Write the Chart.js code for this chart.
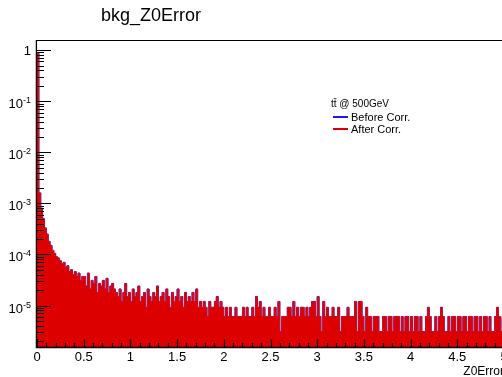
<!DOCTYPE html>
<html>
<head>
<meta charset="utf-8">
<title>bkg_Z0Error</title>
<script src="https://cdn.jsdelivr.net/npm/chart.js@4.4.0/dist/chart.umd.min.js"></script>
<style>
  html, body { margin: 0; padding: 0; background: #fff; overflow: hidden; }
</style>
</head>
<body>
<canvas id="z0Chart" width="512" height="377"></canvas>
<script>
// texts
const histTitle = 'bkg_Z0Error';
const xAxisTitle = 'Z0Error';
const legendHeader = 'tt\u0304 @ 500GeV';
const seriesLabels = ['Before Corr.', 'After Corr.'];

// axes
const xRange = [0, 5];
const binWidth = 0.02;
const xTickValues = [0, 0.5, 1, 1.5, 2, 2.5, 3, 3.5, 4, 4.5, 5];
const yRange = [1.54e-6, 1.58];
const yDecades = [0, -1, -2, -3, -4, -5];

// bin contents (normalized), 0.02 wide bins
const binsHead = [ // 0 - 0.5
  0.87, 1.6e-3, 8.0e-4, 5.0e-4, 3.3e-4, 2.5e-4, 1.8e-4, 1.5e-4, 1.2e-4, 1.05e-4,
  9.0e-5, 8.5e-5, 7.5e-5, 6.5e-5, 7.0e-5, 5.5e-5, 6.0e-5, 4.6e-5, 5.0e-5, 4.0e-5,
  4.6e-5, 3.7e-5, 4.3e-5, 3.1e-5, 3.7e-5
];
const binsNear = [ // 0.5 - 0.84
  3.7e-5, 2.4e-5, 4.3e-5, 2.1e-5, 3.1e-5, 2.7e-5, 3.7e-5, 1.8e-5, 2.7e-5, 2.4e-5,
  3.1e-5, 2.1e-5, 3.4e-5, 1.8e-5, 2.4e-5, 2.7e-5, 2.1e-5
];
const binsMid = [ // 0.84 - 1.7
  1.8e-5, 1.5e-5, 2.1e-5, 1.2e-5, 1.8e-5, 2.7e-5, 1.5e-5, 1.8e-5, 1.2e-5, 2.1e-5,
  1.5e-5, 1.8e-5, 2.4e-5, 1.2e-5, 1.5e-5, 1.8e-5, 9.2e-6, 2.1e-5, 1.5e-5, 1.2e-5,
  1.8e-5, 1.5e-5, 2.4e-5, 1.2e-5, 1.5e-5, 1.8e-5, 1.2e-5, 2.1e-5, 1.5e-5, 9.2e-6,
  1.8e-5, 1.2e-5, 1.5e-5, 2.1e-5, 1.2e-5, 1.5e-5, 9.2e-6, 1.8e-5, 1.2e-5, 1.5e-5,
  1.2e-5, 1.8e-5, 1.2e-5
];
const binsTail1 = [ // 1.7 - 2.54
  2.1e-5, 9.2e-6, 1.2e-5, 9.2e-6, 1.2e-5, 9.2e-6, 6.1e-6, 1.2e-5, 9.2e-6, 9.2e-6,
  1.2e-5, 1.5e-5, 9.2e-6, 1.2e-5, 9.2e-6, 6.1e-6, 9.2e-6, 6.1e-6, 9.2e-6, 6.1e-6,
  6.1e-6, 9.2e-6, 6.1e-6, 6.1e-6, 6.1e-6, 9.2e-6, 6.1e-6, 9.2e-6, 6.1e-6, 6.1e-6,
  9.2e-6, 6.1e-6, 1.5e-5, 9.2e-6, 1.2e-5, 6.1e-6, 9.2e-6, 6.1e-6, 6.1e-6, 9.2e-6,
  6.1e-6, 6.1e-6
];
const binsTail2 = [ // 2.54 - 3.38
  9.2e-6, 6.1e-6, 1.2e-5, 3.1e-6, 6.1e-6, 6.1e-6, 6.1e-6, 9.2e-6, 9.2e-6, 6.1e-6,
  1.2e-5, 6.1e-6, 9.2e-6, 6.1e-6, 9.2e-6, 9.2e-6, 6.1e-6, 9.2e-6, 6.1e-6, 9.2e-6,
  1.2e-5, 1.2e-5, 6.1e-6, 1.5e-5, 6.1e-6, 3.1e-6, 1.2e-5, 6.1e-6, 9.2e-6, 6.1e-6,
  6.1e-6, 9.2e-6, 6.1e-6, 6.1e-6, 9.2e-6, 3.1e-6, 6.1e-6, 6.1e-6, 6.1e-6, 9.2e-6,
  6.1e-6, 6.1e-6
];
const binsTail3 = [ // 3.38 - 3.88
  6.1e-6, 1.2e-5, 3.1e-6, 1.2e-5, 1.2e-5, 6.1e-6, 3.1e-6, 9.2e-6, 6.1e-6, 6.1e-6,
  3.1e-6, 6.1e-6, 6.1e-6, 6.1e-6, 3.1e-6, 3.1e-6, 6.1e-6, 6.1e-6, 3.1e-6, 6.1e-6,
  6.1e-6, 3.1e-6, 6.1e-6, 6.1e-6, 6.1e-6
];
const binsTail4 = [ // 3.88 - 5
  3.1e-6, 6.1e-6, 3.1e-6, 6.1e-6, 6.1e-6, 3.1e-6, 6.1e-6, 3.1e-6, 6.1e-6, 6.1e-6,
  3.1e-6, 6.1e-6, 3.1e-6, 3.1e-6, 6.1e-6, 9.2e-6, 6.1e-6, 3.1e-6, 3.1e-6, 6.1e-6,
  3.1e-6, 6.1e-6, 9.2e-6, 6.1e-6, 3.1e-6, 3.1e-6, 6.1e-6, 3.1e-6, 6.1e-6, 6.1e-6,
  3.1e-6, 6.1e-6, 6.1e-6, 3.1e-6, 6.1e-6, 6.1e-6, 3.1e-6, 6.1e-6, 6.1e-6, 3.1e-6,
  6.1e-6, 6.1e-6, 3.1e-6, 6.1e-6, 3.1e-6, 6.1e-6, 6.1e-6, 3.1e-6, 6.1e-6, 3.1e-6,
  3.1e-6, 6.1e-6, 9.2e-6, 6.1e-6, 3.1e-6, 6.1e-6
];

const afterCorr = [...binsHead, ...binsNear, ...binsMid, ...binsTail1, ...binsTail2, ...binsTail3, ...binsTail4];
// the blue histogram is hidden under the red one everywhere in the picture
const beforeCorr = afterCorr.slice();

const blue = '#1a1aff';
const red = '#dd0000';

// histogram -> step points at the bin low edges (+ closing edge)
function histPoints(contents) {
    const pts = contents.map((v, i) => ({ x: xRange[0] + i * binWidth, y: v }));
    pts.push({ x: xRange[1], y: contents[contents.length - 1] });
    return pts;
}

/**
 * ROOT style frame: inner ticks, superscript labels, title, legend box text
 */
const rootFrame = {
    id: 'rootFrame',
    afterDraw(chart) {
        const { ctx, chartArea: a, scales: { x, y } } = chart;
        ctx.save();
        ctx.strokeStyle = '#000';
        ctx.fillStyle = '#000';

        // frame (axis line sits just left of the first bin)
        ctx.lineWidth = 1;
        ctx.beginPath();
        ctx.moveTo(a.left - 1, a.top + 0.5);
        ctx.lineTo(a.right, a.top + 0.5);
        ctx.stroke();
        ctx.lineWidth = 1.3;
        ctx.beginPath();
        ctx.moveTo(a.left - 0.6, a.top);
        ctx.lineTo(a.left - 0.6, a.bottom + 0.5);
        ctx.lineTo(a.right, a.bottom + 0.5);
        ctx.stroke();

        // y ticks (log)
        ctx.lineWidth = 1.2;
        ctx.beginPath();
        for (let p = 0; p >= -6; p--) {
            for (let m = 1; m < 10; m++) {
                const v = m * Math.pow(10, p);
                if (v < yRange[0] || v > yRange[1]) continue;
                const py = Math.round(y.getPixelForValue(v)) + 0.5;
                ctx.moveTo(a.left, py);
                ctx.lineTo(a.left + (m === 1 ? 14 : 7), py);
            }
        }
        // x ticks
        for (let i = 0; i <= 50; i++) {
            const px = Math.round(x.getPixelForValue(i / 10)) + 0.5;
            ctx.moveTo(px, a.bottom);
            ctx.lineTo(px, a.bottom - (i % 5 === 0 ? 8 : 4));
        }
        ctx.stroke();

        // y labels
        ctx.textAlign = 'right';
        ctx.textBaseline = 'alphabetic';
        yDecades.forEach(p => {
            const py = y.getPixelForValue(Math.pow(10, p));
            if (p === 0) {
                ctx.font = '13px "Liberation Sans", Arial, sans-serif';
                ctx.fillText('1', 31, py + 5);
            } else {
                ctx.font = '9px "Liberation Sans", Arial, sans-serif';
                const exp = String(p);
                ctx.fillText(exp, 31, py + 2);
                const w = ctx.measureText(exp).width;
                ctx.font = '13px "Liberation Sans", Arial, sans-serif';
                ctx.fillText('10', 31 - w, py + 7);
            }
        });

        // x labels
        ctx.textAlign = 'center';
        ctx.font = '13px "Liberation Sans", Arial, sans-serif';
        xTickValues.forEach(v => {
            ctx.fillText(String(v), x.getPixelForValue(v), 361);
        });

        // axis title
        ctx.textAlign = 'right';
        ctx.font = '12px "Liberation Sans", Arial, sans-serif';
        ctx.fillText(xAxisTitle, a.right, 375);

        // histogram title
        ctx.textAlign = 'left';
        ctx.font = '18px "Liberation Sans", Arial, sans-serif';
        ctx.fillText(histTitle, 101, 21);

        // legend
        ctx.font = '10px "Liberation Sans", Arial, sans-serif';
        ctx.fillText(legendHeader, 331, 107);
        ctx.font = '11px "Liberation Sans", Arial, sans-serif';
        [[blue, seriesLabels[0], 117], [red, seriesLabels[1], 129]].forEach(([c, t, ly]) => {
            ctx.strokeStyle = c;
            ctx.lineWidth = 2;
            ctx.beginPath();
            ctx.moveTo(333, ly);
            ctx.lineTo(348, ly);
            ctx.stroke();
            ctx.fillStyle = '#000';
            ctx.fillText(t, 351, ly + 4);
        });
        ctx.restore();
    }
};

const ctx = document.getElementById('z0Chart').getContext('2d');
new Chart(ctx, {
    type: 'line',
    data: {
        datasets: [
            {
                label: seriesLabels[1],
                data: histPoints(afterCorr),
                stepped: 'before', // horizontal at the bin content, then the edge
                borderColor: '#c4102c',
                backgroundColor: red,
                borderWidth: 1,
                fill: 'start',
                pointRadius: 0,
                order: 0,
            },
            {
                label: seriesLabels[0],
                data: histPoints(beforeCorr),
                stepped: 'before',
                borderColor: blue,
                borderWidth: 1,
                fill: false,
                pointRadius: 0,
                order: 1,
            }
        ]
    },
    options: {
        responsive: false,
        animation: false,
        layout: { padding: { top: 40, right: 8, left: 0, bottom: 0 } },
        plugins: {
            legend: { display: false },
            title: { display: false },
            tooltip: { enabled: false },
        },
        scales: {
            x: {
                type: 'linear',
                min: xRange[0],
                max: xRange[1],
                grid: { display: false, drawTicks: false },
                border: { display: false },
                ticks: { display: false },
                afterFit: (scale) => { scale.height = 30; },
            },
            y: {
                type: 'logarithmic',
                min: yRange[0],
                max: yRange[1],
                grid: { display: false, drawTicks: false },
                border: { display: false },
                ticks: { display: false },
                afterFit: (scale) => { scale.width = 37; },
            }
        }
    },
    plugins: [rootFrame]
});
</script>
</body>
</html>
